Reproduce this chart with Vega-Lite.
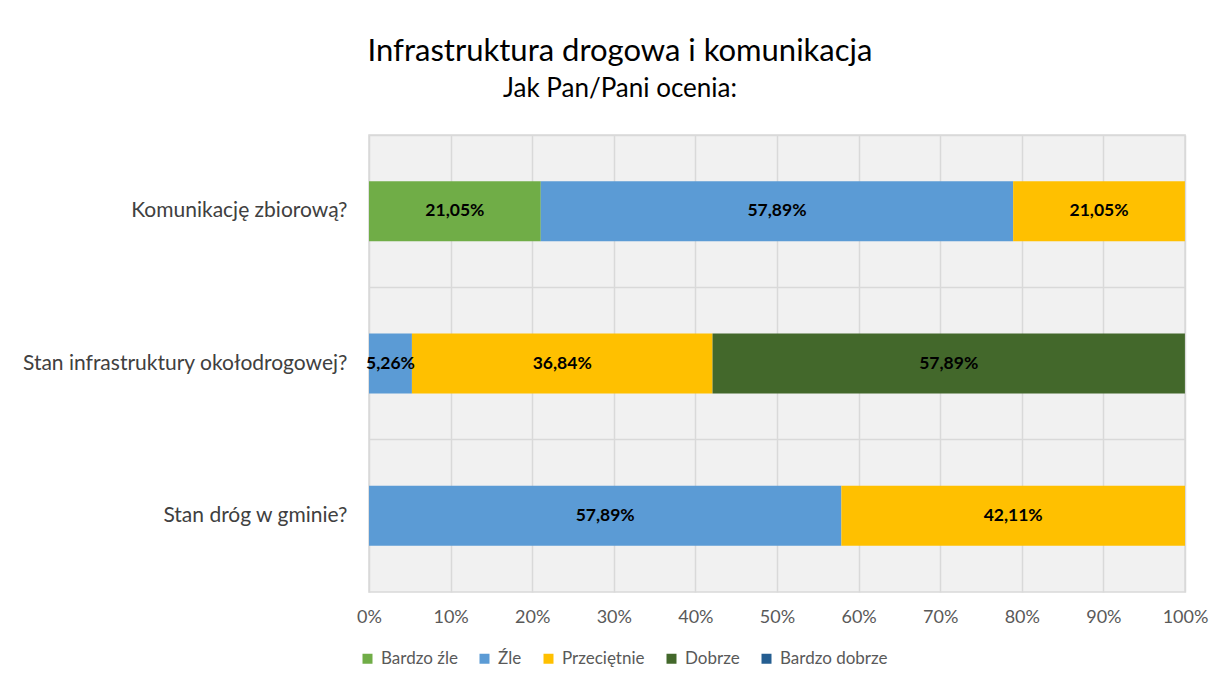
{
  "$schema": "https://vega.github.io/schema/vega-lite/v6.json",
  "width": 816,
  "height": 457,
  "autosize": {"type": "none"},
  "padding": {"left": 369, "top": 135, "right": 32, "bottom": 90},
  "background": "white",
  "config": {
    "font": "Lato",
    "locale": {"number": {"decimal": ",", "thousands": " ", "grouping": [3], "currency": ["", " zł"]}},
    "view": {"fill": "#f1f1f1", "stroke": "#d9d9d9", "strokeWidth": 1.5}
  },
  "title": {
    "text": "Infrastruktura drogowa i komunikacja",
    "subtitle": "Jak Pan/Pani ocenia:",
    "anchor": "middle",
    "frame": "group",
    "dx": -157,
    "offset": 32,
    "font": "Lato",
    "fontSize": 31,
    "fontWeight": "normal",
    "color": "#000000",
    "subtitleFont": "Lato",
    "subtitleFontSize": 26,
    "subtitleColor": "#000000",
    "subtitlePadding": 8
  },
  "data": {
    "values": [
      {"pytanie": "Komunikację zbiorową?", "ocena": "Bardzo źle", "wartosc": 0.2105},
      {"pytanie": "Komunikację zbiorową?", "ocena": "Źle", "wartosc": 0.5789},
      {"pytanie": "Komunikację zbiorową?", "ocena": "Przeciętnie", "wartosc": 0.2105},
      {"pytanie": "Stan infrastruktury okołodrogowej?", "ocena": "Źle", "wartosc": 0.0526},
      {"pytanie": "Stan infrastruktury okołodrogowej?", "ocena": "Przeciętnie", "wartosc": 0.3684},
      {"pytanie": "Stan infrastruktury okołodrogowej?", "ocena": "Dobrze", "wartosc": 0.5789},
      {"pytanie": "Stan dróg w gminie?", "ocena": "Źle", "wartosc": 0.5789},
      {"pytanie": "Stan dróg w gminie?", "ocena": "Przeciętnie", "wartosc": 0.4211}
    ]
  },
  "transform": [
    {"calculate": "indexof(['Bardzo źle','Źle','Przeciętnie','Dobrze','Bardzo dobrze'], datum.ocena)", "as": "k"},
    {"stack": "wartosc", "groupby": ["pytanie"], "sort": [{"field": "k", "order": "ascending"}], "as": ["v0", "v1"]},
    {"calculate": "(datum.v0 + datum.v1) / 2", "as": "mid"}
  ],
  "encoding": {
    "y": {
      "field": "pytanie",
      "type": "nominal",
      "sort": ["Komunikację zbiorową?", "Stan infrastruktury okołodrogowej?", "Stan dróg w gminie?"],
      "scale": {"paddingInner": 0, "paddingOuter": 0},
      "axis": {
        "title": null,
        "ticks": false,
        "domain": false,
        "bandPosition": 0,
        "grid": true,
        "gridColor": "#d9d9d9",
        "gridWidth": 1.5,
        "labelFontSize": 21,
        "labelColor": "#404040",
        "labelPadding": 22,
        "labelLimit": 400
      }
    }
  },
  "layer": [
    {
      "mark": {"type": "bar", "height": {"band": 0.394}},
      "encoding": {
        "x": {
          "field": "v0",
          "type": "quantitative",
          "scale": {"domain": [0, 1], "nice": false},
          "axis": {
            "title": null,
            "format": ".0%",
            "values": [0, 0.1, 0.2, 0.3, 0.4, 0.5, 0.6, 0.7, 0.8, 0.9, 1],
            "ticks": false,
            "domain": false,
            "grid": true,
            "gridColor": "#d9d9d9",
            "gridWidth": 1.5,
            "labelFlush": false,
            "labelOverlap": false,
            "labelFontSize": 18,
            "labelColor": "#595959",
            "labelPadding": 16
          }
        },
        "x2": {"field": "v1"},
        "color": {
          "field": "ocena",
          "type": "nominal",
          "scale": {
            "domain": ["Bardzo źle", "Źle", "Przeciętnie", "Dobrze", "Bardzo dobrze"],
            "range": ["#70ad47", "#5b9bd5", "#ffc000", "#43682b", "#255e91"]
          },
          "legend": {
            "title": null,
            "orient": "none",
            "direction": "horizontal",
            "legendX": -10,
            "legendY": 515,
            "symbolType": "square",
            "symbolSize": 100,
            "symbolStrokeWidth": 0,
            "labelFontSize": 17,
            "labelColor": "#595959",
            "labelOffset": 5,
            "columnPadding": 18
          }
        }
      }
    },
    {
      "mark": {"type": "text", "fontWeight": "bold", "fontSize": 17.5, "color": "#000000", "align": "center", "baseline": "middle"},
      "encoding": {
        "x": {"field": "mid", "type": "quantitative"},
        "text": {"field": "wartosc", "type": "quantitative", "format": ".2%"}
      }
    }
  ]
}
